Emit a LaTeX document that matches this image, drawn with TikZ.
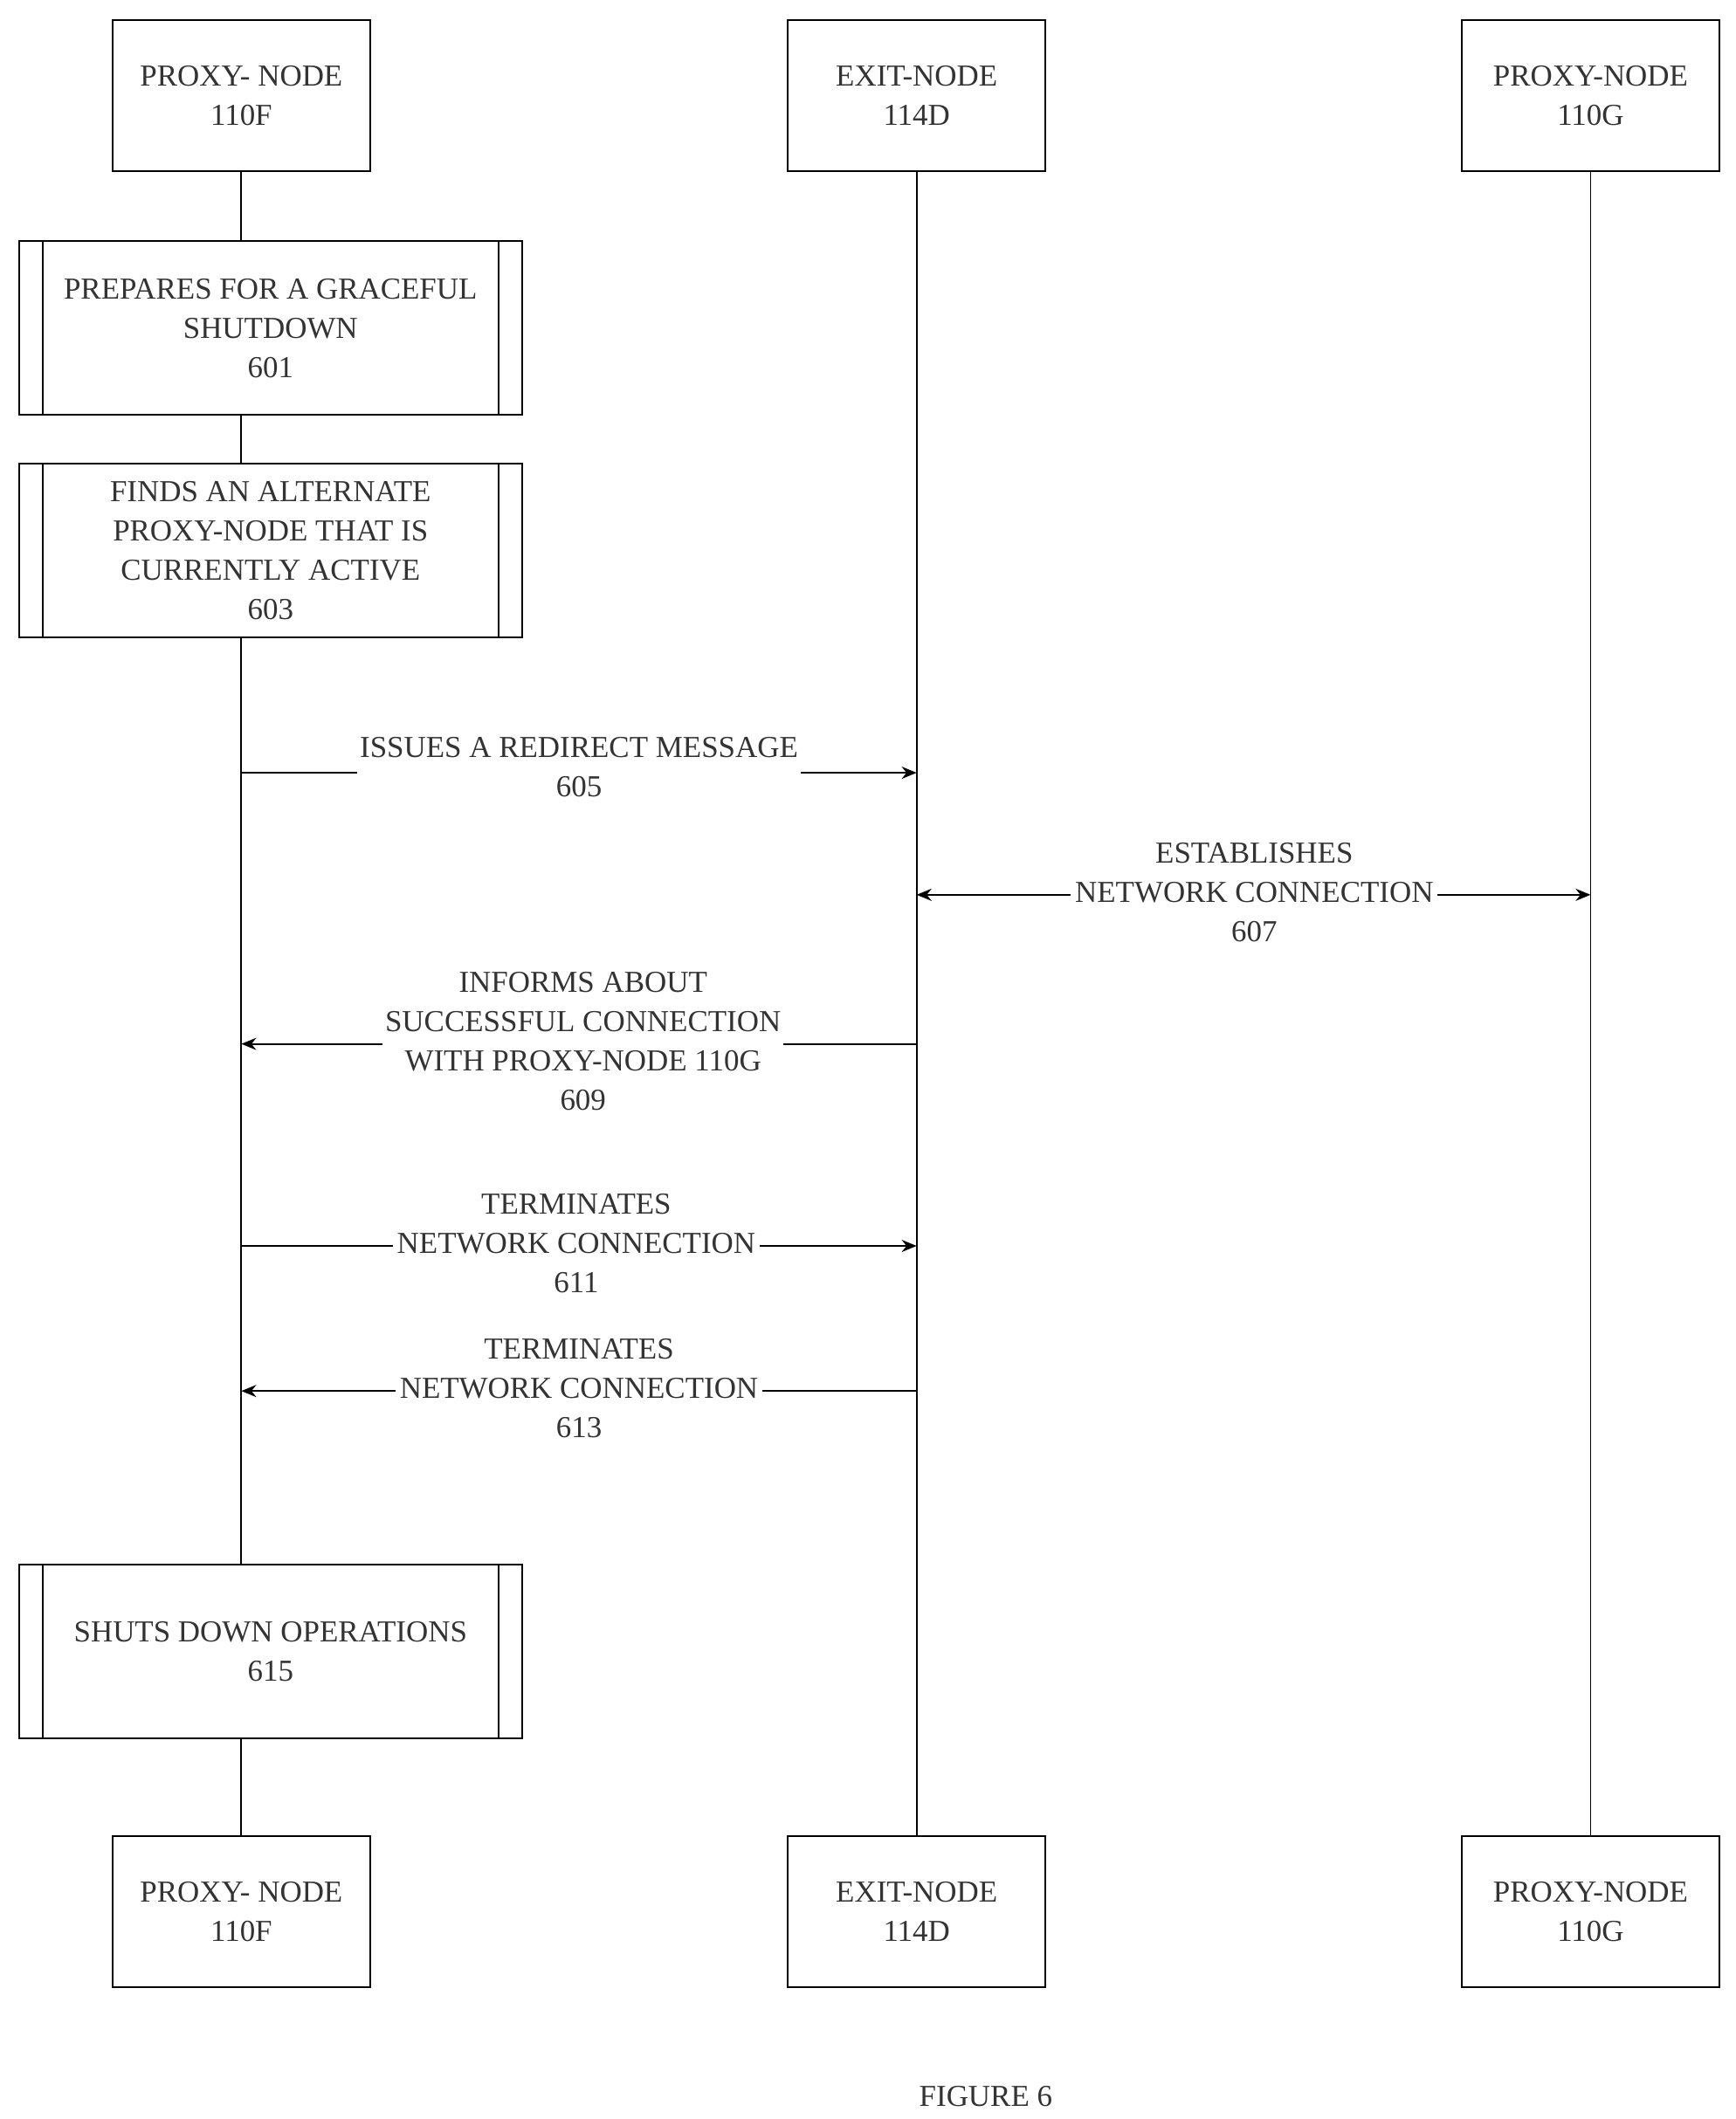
\documentclass[tikz,border=0pt]{standalone}
\usepackage{fontspec}
\setmainfont{Liberation Serif}
\usetikzlibrary{arrows.meta}
\begin{document}
\begin{tikzpicture}[x=1pt,y=-1pt,
 every node/.style={font=\fontsize{22.5}{29}\selectfont,align=center,text=black!80},
 actor/.style={draw,line width=1.2pt,minimum width=190,minimum height=111},
 proc/.style={draw,line width=1.2pt,minimum width=371,minimum height=128},
 lbl/.style={fill=white,inner sep=2pt},
 ln/.style={line width=1.2pt},
 arr/.style={ln,-{Stealth[length=11,width=9]}},
 darr/.style={ln,{Stealth[length=11,width=9]}-{Stealth[length=11,width=9]}}]
\useasboundingbox (0,0) rectangle (1280,1563);
\node[actor] (a1) at (178,70.5) {PROXY- NODE\\110F};
\node[actor] (b1) at (676,70.5) {EXIT-NODE\\114D};
\node[actor] (c1) at (1173,70.5) {PROXY-NODE\\110G};
\node[actor] (a2) at (178,1410) {PROXY- NODE\\110F};
\node[actor] (b2) at (676,1410) {EXIT-NODE\\114D};
\node[actor] (c2) at (1173,1410) {PROXY-NODE\\110G};
\draw[ln] (b1) -- (b2);
\draw[ln] (c1) -- (c2);
\node[proc] (p1) at (199.5,242) {PREPARES FOR A GRACEFUL\\SHUTDOWN\\601};
\node[proc] (p3) at (199.5,406) {FINDS AN ALTERNATE\\PROXY-NODE THAT IS\\CURRENTLY ACTIVE\\603};
\node[proc] (p5) at (199.5,1218) {SHUTS DOWN OPERATIONS\\615};
\foreach \p in {p1,p3,p5}{
 \draw[ln] ([xshift=18]\p.north west) -- ([xshift=18]\p.south west);
 \draw[ln] ([xshift=-18]\p.north east) -- ([xshift=-18]\p.south east);}
\draw[ln] (a1) -- (a1|-p1.north);
\draw[ln] (a1|-p1.south) -- (a1|-p3.north);
\draw[ln] (a1|-p3.south) -- (a1|-p5.north);
\draw[ln] (a1|-p5.south) -- (a2);
\coordinate (s605) at (178,570); \coordinate (e605) at (676,570);
\draw[arr] (s605) -- (e605);
\node[lbl] (l605) at (427,566) {ISSUES A REDIRECT MESSAGE\\605};
\coordinate (s607) at (676,660); \coordinate (e607) at (1173,660);
\draw[darr] (s607) -- (e607);
\node[lbl,fill=none] (l607) at (925,658) {ESTABLISHES\\\colorbox{white}{NETWORK CONNECTION}\\607};
\coordinate (s609) at (676,770); \coordinate (e609) at (178,770);
\draw[arr] (s609) -- (e609);
\node[lbl] (l609) at (430,768) {INFORMS ABOUT\\SUCCESSFUL CONNECTION\\WITH PROXY-NODE 110G\\609};
\coordinate (s611) at (178,919); \coordinate (e611) at (676,919);
\draw[arr] (s611) -- (e611);
\node[lbl,fill=none] (l611) at (425,917) {TERMINATES\\\colorbox{white}{NETWORK CONNECTION}\\611};
\coordinate (s613) at (676,1026); \coordinate (e613) at (178,1026);
\draw[arr] (s613) -- (e613);
\node[lbl,fill=none] (l613) at (427,1024) {TERMINATES\\\colorbox{white}{NETWORK CONNECTION}\\613};
\node (fig) at (727,1546) {FIGURE 6};
\end{tikzpicture}
\end{document}
